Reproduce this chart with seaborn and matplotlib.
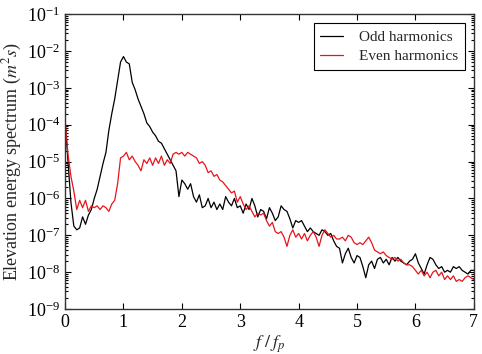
import numpy as np
import pandas as pd
import seaborn as sns
import matplotlib.pyplot as plt
from matplotlib.ticker import LogLocator, LogFormatterMathtext, NullFormatter

# normalised frequency f/fp, step 0.05
freq = [round(0.05 * i, 2) for i in range(141)]

# log10 of spectrum
odd_log10 = [
    -3.87, -5.0, -6.1, -6.75, -6.85, -6.8, -6.5, -6.7, -6.45, -6.3,
    -6.0, -5.75, -5.4, -5.05, -4.75, -4.15, -3.7, -3.3, -2.8, -2.3,
    -2.15, -2.3, -2.35, -2.85, -3.05, -3.3, -3.5, -3.7, -3.95, -4.05,
    -4.2, -4.3, -4.45, -4.5, -4.65, -4.8, -4.95, -5.1, -5.25, -5.95,
    -5.5, -5.6, -5.75, -5.6, -5.95, -6.1, -5.9, -6.25, -6.2, -6.0,
    -6.25, -6.1, -6.3, -6.15, -6.3, -5.95, -6.1, -6.2, -6.0, -6.25,
    -6.2, -6.4, -6.15, -6.3, -6.0, -6.2, -6.5, -6.3, -6.35, -6.55,
    -6.25, -6.4, -6.6, -6.5, -6.2, -6.3, -6.35, -6.55, -6.8, -6.6,
    -6.65, -6.6, -6.75, -6.9, -6.8, -6.9, -6.95, -7.0, -6.85, -6.9,
    -7.0, -6.95, -7.15, -7.3, -7.35, -7.75, -7.5, -7.35, -7.6, -7.75,
    -7.55, -7.6, -7.85, -8.15, -7.8, -7.7, -7.9, -7.65, -7.6, -7.75,
    -7.65, -7.8, -7.6, -7.7, -7.6, -7.7, -7.75, -7.8, -7.7, -7.65,
    -7.5, -7.75, -7.9, -8.05, -7.8, -7.6, -7.65, -7.8, -7.9, -7.85,
    -8.0, -7.95, -8.0, -7.85, -7.9, -7.85, -7.95, -8.0, -8.05, -7.95,
    -7.95,
]
even_log10 = [
    -3.87, -4.8, -5.4, -5.8, -6.3, -6.05, -6.25, -6.05, -6.35, -6.2,
    -6.25, -6.2, -6.3, -6.2, -6.25, -6.35, -6.15, -6.05, -5.6, -4.9,
    -4.85, -4.75, -4.95, -4.85, -5.0, -5.1, -5.25, -4.95, -5.05, -4.9,
    -5.1, -4.9, -5.05, -4.85, -5.1, -4.95, -5.05, -4.8, -4.75, -4.8,
    -4.75, -4.85, -4.75, -4.8, -4.85, -4.9, -5.05, -5.0, -5.1, -5.3,
    -5.25, -5.4, -5.35, -5.5, -5.55, -5.65, -5.75, -5.85, -5.8, -6.1,
    -5.95, -6.15, -6.3, -6.2, -6.35, -6.5, -6.4, -6.45, -6.4, -6.6,
    -6.75, -6.65, -6.9, -6.95, -6.9, -7.05, -7.3, -7.0, -6.85, -7.05,
    -6.95, -7.1, -6.95, -7.15, -7.0, -6.9, -7.05, -7.3, -7.0, -6.85,
    -6.95, -7.05, -7.0, -7.1, -7.1, -7.05, -7.15, -7.0, -7.05, -7.2,
    -7.25, -7.2, -7.25, -7.15, -7.05, -7.2, -7.4, -7.45, -7.5, -7.45,
    -7.55, -7.6, -7.65, -7.6, -7.7, -7.65, -7.75, -7.8, -7.8, -7.85,
    -7.95, -8.05, -7.95, -8.1, -8.0, -8.15, -8.0, -7.95, -8.1, -8.0,
    -8.2, -8.1, -8.2, -8.1, -8.25, -8.2, -8.25, -8.15, -8.1, -8.15,
    -8.2,
]
labels = ['Odd harmonics', 'Even harmonics']

df = pd.DataFrame({
    'f': freq * 2,
    'S': list(10 ** np.array(odd_log10)) + list(10 ** np.array(even_log10)),
    'series': [labels[0]] * len(freq) + [labels[1]] * len(freq),
})

sns.set_style('ticks')
plt.rcParams['font.family'] = ['Liberation Serif', 'DejaVu Serif']
plt.rcParams['mathtext.fontset'] = 'stix'
plt.rcParams['xtick.direction'] = 'in'
plt.rcParams['ytick.direction'] = 'in'

fig = plt.figure(figsize=(4.82, 3.54), dpi=100)
ax = fig.add_axes([0.135, 0.127, 0.848, 0.833])

sns.lineplot(data=df, x='f', y='S', hue='series', palette=['black', '#e8141b'],
             linewidth=0.9, ax=ax, estimator=None)

ax.set_yscale('log')
ax.set_ylim(1e-9, 1e-1)
ax.set_xlim(0, 7)
ax.yaxis.set_major_locator(LogLocator(base=10, numticks=20))
ax.yaxis.set_major_formatter(LogFormatterMathtext())
ax.yaxis.set_minor_locator(LogLocator(base=10, subs=np.arange(2, 10), numticks=20))
ax.yaxis.set_minor_formatter(NullFormatter())
ax.tick_params(which='both', top=True, right=True, labelsize=13, width=0.8, colors='black')
ax.tick_params(which='major', length=4)
ax.tick_params(which='minor', length=2)
for s in ax.spines.values():
    s.set_linewidth(1.0)
    s.set_color('#333333')

ax.set_xlabel(r'$f\;/\;f_p$', fontsize=13, labelpad=2)
ax.set_ylabel(r'Elevation energy spectrum ($m^2s$)', fontsize=13, labelpad=2)

leg = ax.legend(loc='upper right', fontsize=11, fancybox=False, framealpha=1,
                edgecolor='black', borderaxespad=0.6, handlelength=1.5,
                borderpad=0.45, labelspacing=0.35, handletextpad=1.0)
leg.set_title(None)
leg.get_frame().set_linewidth(0.8)

plt.savefig('out.png', dpi=100)
plt.close()
